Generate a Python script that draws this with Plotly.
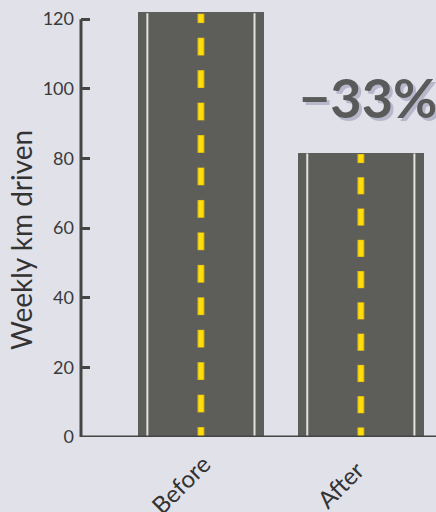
import plotly.graph_objects as go

# ---- data ----
categories = ["Before", "After"]
weekly_km = [122, 81.7]
y_ticks = [0, 20, 40, 60, 80, 100, 120]

BG = "#e1e1ea"
ROAD = "#5d5d5a"
AXIS = "#454545"
FONT = "Lato"

W, H = 436, 512
ML, MB, MT, MR = 81, 75, 0, 0
plot_h = H - MB - MT
Y_MAX = 125.5
px_per_unit = plot_h / Y_MAX

xs = list(range(len(categories)))
bar_w = 0.7875
lane_off = 0.335

fig = go.Figure()
fig.add_trace(go.Bar(x=xs, y=weekly_km, width=bar_w, marker=dict(color=ROAD, line=dict(width=0)),
                     hoverinfo="skip", showlegend=False))


def dash_segments(x, v, ext=0.0):
    """Centre-line dashes for a bar of value v: half dash at each end, evenly spaced."""
    y_top = v - 2 / px_per_unit
    y_bot = 1 / px_per_unit
    L = y_top - y_bot
    n = max(1, round(L / (32 / px_per_unit)))
    P = L / n
    half = 0.26 * P
    xx, yy = [], []
    for k in range(n + 1):
        c = y_top - k * P
        a = min(y_top, c + half) + (ext if k == 0 else ext)
        b = max(y_bot, c - half) - ext
        a = min(a, y_top + ext)
        xx += [x, x, None]
        yy += [a, b, None]
    return xx, yy


# lane markings
for x, v in zip(xs, weekly_km):
    for side in (-1, 1):
        fig.add_trace(go.Scatter(x=[x + side * lane_off] * 2, y=[0, v - 0.3], mode="lines",
                                 line=dict(color="#e2e2e2", width=2), hoverinfo="skip", showlegend=False))
    xx, yy = dash_segments(x, v, ext=0.5 / px_per_unit)
    fig.add_trace(go.Scatter(x=xx, y=yy, mode="lines", connectgaps=False,
                             line=dict(color="#c9ae1c", width=7),
                             hoverinfo="skip", showlegend=False))
    xx, yy = dash_segments(x, v)
    fig.add_trace(go.Scatter(x=xx, y=yy, mode="lines", connectgaps=False,
                             line=dict(color="#ffdc0a", width=5),
                             hoverinfo="skip", showlegend=False))

fig.update_xaxes(range=[-0.75, 1.47], showgrid=False, zeroline=False, showline=False,
                 showticklabels=False, ticks="")
fig.update_yaxes(range=[0, Y_MAX], showgrid=False, zeroline=False, showline=False,
                 tickvals=y_ticks, ticks="inside", ticklen=9, tickwidth=3, tickcolor=AXIS,
                 ticklabelstandoff=6,
                 tickfont=dict(family=FONT, size=18, color="#3a3a3a"))

shapes = [
    dict(type="line", xref="paper", yref="y", x0=0, x1=0, y0=0, y1=y_ticks[-1],
         line=dict(color=AXIS, width=3)),
    dict(type="line", xref="paper", yref="y", x0=0, x1=1, y0=0, y1=0,
         line=dict(color=AXIS, width=3)),
]

annotations = []
for x, c in zip(xs, categories):
    annotations.append(dict(x=x, y=0, xref="x", yref="y", text=c, showarrow=False, textangle=-45,
                            xshift=-21, yshift=-47, font=dict(family=FONT, size=24, color="#333333")))

pct = round((weekly_km[1] - weekly_km[0]) / weekly_km[0] * 100)
label = "\u2212" + str(abs(pct)) + "%"
for dx, dy, col in [(3, -3, "#b6b7ca"), (0, 0, "#5a5a5a")]:
    annotations.append(dict(x=1.044, y=97.6, xref="x", yref="y", text="<b>" + label + "</b>",
                            showarrow=False, xshift=dx, yshift=dy,
                            font=dict(family=FONT, size=54, color=col)))

annotations.append(dict(x=0, xshift=-60, y=(plot_h - 240) / plot_h, xref="paper", yref="paper",
                        text="Weekly km driven", showarrow=False, textangle=-90,
                        font=dict(family=FONT, size=28, color="#333333"), xanchor="center"))

fig.update_layout(width=W, height=H, margin=dict(l=ML, r=MR, t=MT, b=MB, pad=0),
                  paper_bgcolor=BG, plot_bgcolor=BG, shapes=shapes, annotations=annotations,
                  bargap=0)

fig.write_html("out.html", config={"displayModeBar": False},
               post_script="document.body.style.margin='0';document.body.style.overflow='hidden';document.body.style.background='" + BG + "';")
